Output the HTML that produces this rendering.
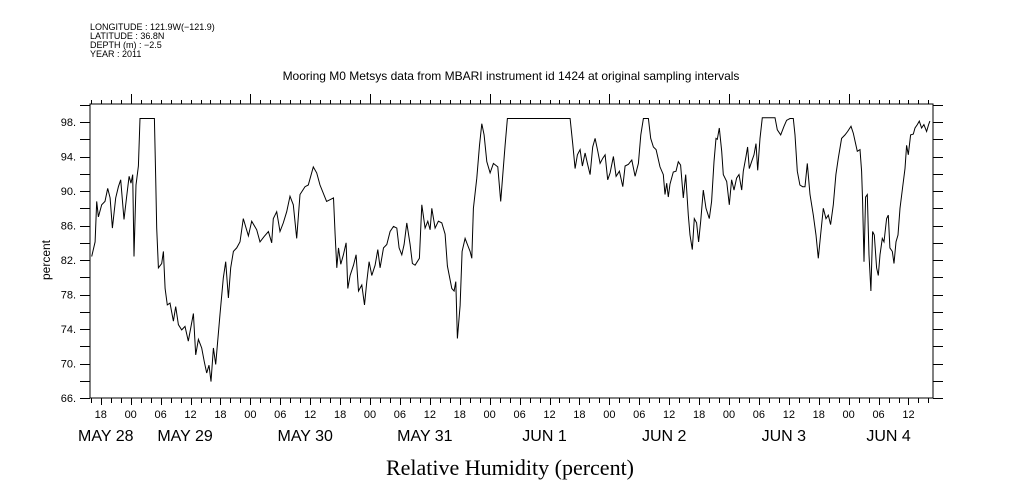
<!DOCTYPE html>
<html><head><meta charset="utf-8"><style>
body{margin:0;background:#fff;}
svg{display:block;font-family:"Liberation Sans",sans-serif;}
</style></head><body>
<svg id="chart" width="1009" height="504" viewBox="0 0 1009 504" xmlns="http://www.w3.org/2000/svg">
<g font-size="9" fill="#000">
<text x="90" y="30">LONGITUDE : 121.9W(−121.9)</text>
<text x="90" y="39">LATITUDE : 36.8N</text>
<text x="90" y="48">DEPTH (m) : −2.5</text>
<text x="90" y="57">YEAR : 2011</text>
</g>
<text x="511" y="80" text-anchor="middle" font-size="12">Mooring M0 Metsys data from MBARI instrument id 1424 at original sampling intervals</text>
<text x="510" y="475" text-anchor="middle" font-size="22" font-family="'Liberation Serif',serif">Relative Humidity (percent)</text>
<text transform="translate(50,260) rotate(-90)" text-anchor="middle" font-size="12">percent</text>
<rect x="90" y="104" width="843" height="294" fill="none" stroke="#000" stroke-width="1"/>
<g id="axes"></g>
<g id="series"></g>
</svg>
<script>
const hours=[16.18,16.85,17.18,17.52,18.18,18.85,19.39,19.86,20.32,20.99,21.53,22.0,22.66,23.2,23.67,24.07,24.4,24.67,25.07,25.54,25.87,28.75,29.01,29.21,29.55,30.22,30.55,30.89,31.35,31.89,32.56,33.02,33.56,34.23,34.9,35.56,36.57,37.03,37.57,38.24,38.77,39.24,39.71,40.11,40.58,41.05,41.91,42.58,43.05,43.59,44.05,44.59,45.26,45.93,46.59,47.6,48.26,49.27,49.94,50.74,51.61,52.28,52.61,53.28,53.95,54.61,55.28,55.95,56.62,57.29,57.96,58.96,59.63,60.63,61.3,61.97,63.3,
64.67,65.0,65.34,65.67,66.14,66.67,67.21,67.54,68.01,68.68,69.21,69.68,70.35,70.89,71.35,71.82,72.36,73.02,73.56,74.03,74.7,75.36,76.03,76.7,77.37,77.84,78.37,78.84,79.37,80.04,80.51,81.05,81.91,82.38,83.05,83.59,84.05,84.39,85.06,85.72,86.39,87.06,87.53,88.4,88.87,89.2,89.53,90.07,90.47,91.07,91.54,92.07,92.41,92.74,93.41,93.95,94.41,94.88,95.42,96.09,96.75,97.62,98.22,98.63,99.09,99.56,112.13,112.66,113.13,113.6,114.13,114.6,115.14,115.6,116.14,116.67,117.14,117.68,118.14,118.68,119.15,119.68,120.15,120.82,121.35,122.02,122.69,123.16,123.83,124.5,125.16,125.83,126.3,126.84,127.84,128.3,128.84,129.37,
130.16,130.83,131.16,131.5,131.83,132.17,132.83,133.37,133.84,134.3,134.84,135.31,135.84,136.18,136.64,137.04,137.51,137.91,138.32,138.85,139.38,140.05,140.52,140.99,141.39,141.66,142.06,142.53,142.86,143.53,144.06,144.53,145.0,145.53,146.0,146.54,146.87,147.41,147.74,148.07,148.54,149.01,149.41,149.75,150.21,150.68,153.22,153.69,154.36,155.03,155.56,156.23,156.9,157.23,157.7,158.23,158.77,159.24,159.7,160.24,160.91,161.44,161.91,162.38,162.91,163.45,163.92,164.38,164.92,165.45,165.92,166.59,167.26,167.79,168.46,168.93,169.4,169.73,170.27,170.6,170.8,171.07,171.4,171.74,172.07,172.47,172.81,173.14,173.61,173.94,174.28,174.75,175.08,175.61,175.95,176.28,176.75,177.09,177.49,177.89,178.29,178.82,179.29,179.63,179.96,180.43,180.96,181.3,181.77,182.17,182.63,183.1,183.64,184.04,184.3];
const humidity=[82.4,84.1,88.8,87,88.4,88.8,90.3,89.2,85.7,89.2,90.5,91.3,86.7,89.4,91.7,90.9,91.9,82.4,90.7,92.9,98.4,98.4,91.5,85.7,81.1,81.6,83,78.7,76.8,77,74.9,76.6,74.5,73.9,74.3,72.6,75.8,71,72.8,71.8,70.2,68.9,69.8,67.9,71.8,69.9,75.7,79.9,81.8,77.6,81.1,83,83.4,84.1,86.8,84.8,86.5,85.5,84.1,84.7,85.3,84,86.8,87.6,85.3,86.3,87.6,89.4,88.4,84.5,89.6,90.5,90.7,92.8,92.1,90.7,88.8,
89.2,85,81.1,83.4,81.5,82.6,84,78.7,80.2,81.4,82.6,78.4,79.1,76.8,79.5,81.8,80.2,81.4,83.2,81.1,83.4,83.8,85.3,85.9,85.7,83.4,82.6,83.8,86.3,83.8,81.6,81.4,82.2,88.4,85.7,86.5,85.5,88,85.7,86.5,86.3,85,81.3,78.7,78.4,79.5,72.9,76.7,83,84.5,83.8,83,82.2,88,91.5,95.3,97.8,96.5,93.4,92.1,93.2,92.8,88.8,91.9,95.3,98.4,98.4,95.5,92.6,94.2,94.8,92.9,94.4,93.2,91.9,95.1,96.1,94.6,93.2,93.8,94.2,91.3,92.1,94,91.7,92.3,90.5,92.9,93.1,93.6,91.7,93.2,96.5,98.4,98.4,96.1,95.1,94.8,
92.8,91.9,89.6,90.9,89.3,90.8,92.2,92.3,93.4,93,89.2,91.9,87.2,84.9,83.2,86.8,86.3,84.1,86.5,90.1,88,86.8,88.8,93.4,96.1,96,97.3,94.6,91.9,91.1,88.4,91.3,90.1,91.5,91.9,90.1,92.3,94,95.1,92.6,93.4,94.2,95.5,92.4,96.1,98.5,98.5,97.1,96.5,97.5,98.2,98.4,98.4,96.5,92.3,90.7,90.5,90.5,93.2,89.6,87.2,84.9,82.2,84.9,88,86.8,87.2,86.1,88.4,91.9,93.8,96.1,96.5,96.9,97.5,96.7,95.5,94.6,94.8,92.3,88.8,81.8,89.3,89.6,82.6,78.4,85.3,84.9,81.1,80.2,82.6,84.5,84.1,86.8,87.2,83.4,83,81.6,84.1,84.9,88,90.4,92.6,95.3,94.2,96.5,96.6,97.3,97.7,98.1,97.3,97.7,96.9,97.7,98.1];
const yTickValues=[66,70,74,78,82,86,90,94,98];
const yTickLabels=["66.","70.","74.","78.","82.","86.","90.","94.","98."];
const hourTickLabels=["00","06","12","18"];
const dateLabels=["MAY 28","MAY 29","MAY 30","MAY 31","JUN  1","JUN  2","JUN  3","JUN  4"];
const dateLabelHours=[19,34.9,59,83,107,131,155,176];

const NS="http://www.w3.org/2000/svg";
const X0=90,X1=933,Y0=104,Y1=398;
function xScale(h){return 130.7+(h-24)*119.66/24;}
function yScale(v){return 398-(v-66)*8.625;}
const axes=document.getElementById('axes');
function line(x1,y1,x2,y2,name){
  const l=document.createElementNS(NS,'line');
  l.setAttribute('x1',x1);l.setAttribute('y1',y1);l.setAttribute('x2',x2);l.setAttribute('y2',y2);
  l.setAttribute('stroke','#000');l.setAttribute('stroke-width','1');
  
  
  axes.appendChild(l);
}
function text(x,y,s,size,anchor,name){
  const t=document.createElementNS(NS,'text');
  t.setAttribute('x',x);t.setAttribute('y',y);t.setAttribute('font-size',size);
  t.setAttribute('text-anchor',anchor);t.setAttribute('xml:space','preserve');t.textContent=s;
  
  
  axes.appendChild(t);
}
for(let v=66;v<=100;v+=2){
  const y=Math.round(yScale(v))+0.5;
  if(y<Y0) continue;
  line(80,y,X0,y,'y-tick-left');
  line(X1,y,943,y,'y-tick-right');
}
yTickValues.forEach((v,i)=>text(76,yScale(v)+4,yTickLabels[i],11,'end','y-tick-label'));
for(let h=16;h<=185;h+=2){
  const x=Math.round(xScale(h))+0.5;
  if(x<X0||x>X1) continue;
  const day=(h%24===0);
  line(x,Y1,x,Y1+(h%6===0?7:5),'x-tick-bottom');
  line(x,Y0,x,Y0-(day?10:4),'x-tick-top');
  if(h%6===0){
    text(xScale(h),418,hourTickLabels[(h%24)/6],11,'middle','x-hour-label');
  }
}
dateLabels.forEach((s,i)=>text(xScale(dateLabelHours[i]),441,s,16,'middle','x-date-label'));
let d='';
hours.forEach((h,i)=>{d+=(i?'L':'M')+xScale(h).toFixed(1)+','+yScale(humidity[i]).toFixed(1);});
const p=document.createElementNS(NS,'path');
p.setAttribute('d',d);p.setAttribute('fill','none');p.setAttribute('stroke','#000');p.setAttribute('stroke-width','1');


document.getElementById('series').appendChild(p);
</script>
</body></html>
